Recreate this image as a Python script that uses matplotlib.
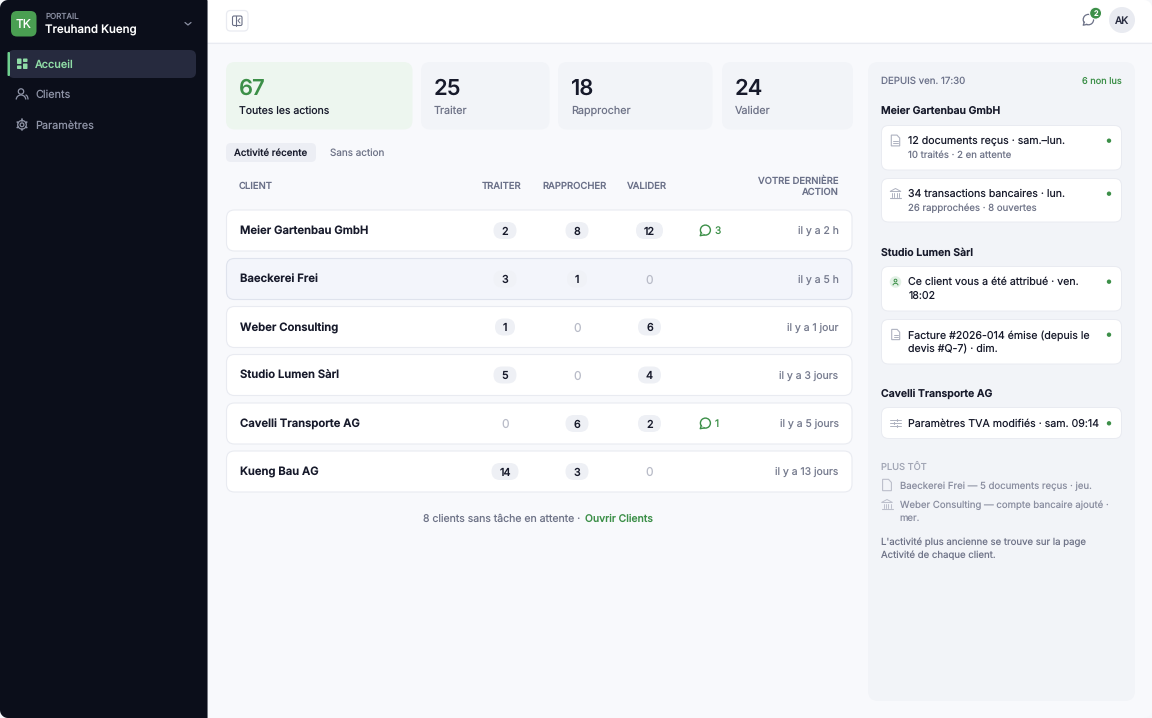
import matplotlib
matplotlib.use("Agg")
import numpy as np
import matplotlib.pyplot as plt
from matplotlib.patches import FancyBboxPatch, Circle, Polygon, Rectangle, Arc

plt.rcParams['font.family'] = ['Inter', 'DejaVu Sans']
plt.rcParams['text.hinting'] = 'none'
plt.rcParams['text.hinting_factor'] = 1

# ---------- data ----------
nav_items = ["Accueil", "Clients", "Paramètres"]
stat_values = [67, 25, 18, 24]
stat_labels = ["Toutes les actions", "Traiter", "Rapprocher", "Valider"]
clients = ["Meier Gartenbau GmbH", "Baeckerei Frei", "Weber Consulting",
           "Studio Lumen Sàrl", "Cavelli Transporte AG", "Kueng Bau AG"]
traiter = [2, 3, 1, 5, 0, 14]
rapprocher = [8, 1, 0, 0, 6, 3]
valider = [12, 0, 6, 4, 2, 0]
comments = [3, 0, 0, 0, 1, 0]
last_action = ["il y a 2 h", "il y a 5 h", "il y a 1 jour",
               "il y a 3 jours", "il y a 5 jours", "il y a 13 jours"]

# ---------- palette ----------
INK = "#171a2b"
MUTED = "#6f7488"
GREEN = "#3c8f48"
SIDE = "#0b0e1a"
PANEL = "#f2f4f8"
LINE = "#e9ebf1"
ICON = "#aeb2c0"

W, H = 1152, 718
fig = plt.figure(figsize=(W / 100, H / 100), dpi=100, facecolor="#ffffff")
ax = fig.add_axes([0, 0, 1, 1])
ax.set_xlim(0, W)
ax.set_ylim(H, 0)
ax.axis("off")


def box(x0, y0, x1, y1, r=0, fc="#ffffff", ec="none", lw=0.8, z=1):
    p = FancyBboxPatch((x0, y0), x1 - x0, y1 - y0,
                       boxstyle=f"round,pad=0,rounding_size={r}",
                       fc=fc, ec=ec, lw=lw, zorder=z)
    ax.add_patch(p)
    return p


def txt(x, y, s, px=11, c=INK, w="normal", ha="left", z=5, va="center_baseline"):
    return ax.text(x, y, s, fontsize=px * 0.72, color=c, fontweight=w,
                   ha=ha, va=va, zorder=z)


def ln(xs, ys, c=ICON, lw=0.9, z=4):
    ax.plot(xs, ys, color=c, lw=lw, solid_capstyle="round",
            solid_joinstyle="round", zorder=z)


def doc_icon(cx, cy, c=ICON, s=1.0, lines=True):
    w, h = 4.2 * s, 5.4 * s
    pts = [(cx - w, cy - h), (cx + w * .35, cy - h), (cx + w, cy - h * .45),
           (cx + w, cy + h), (cx - w, cy + h)]
    ax.add_patch(Polygon(pts, closed=True, fc="none", ec=c, lw=0.8, zorder=4))
    if lines:
        for dy in (0.2, 2.4):
            ln([cx - w * .5, cx + w * .5], [cy + dy, cy + dy], c, 0.7)


def bank_icon(cx, cy, c=ICON):
    ax.add_patch(Polygon([(cx - 5.5, cy - 2), (cx, cy - 5), (cx + 5.5, cy - 2)],
                         closed=True, fc="none", ec=c, lw=0.7, zorder=4))
    for dx in (-3.5, -1.2, 1.2, 3.5):
        ln([cx + dx, cx + dx], [cy - 1, cy + 3], c, 0.7)
    ln([cx - 5.5, cx + 5.5], [cy + 4.3, cy + 4.3], c, 0.8)


def chat_icon(cx, cy, c=GREEN, r=5.0, lw=1.0):
    ax.add_patch(Circle((cx + 0.4, cy - 0.4), r, fc="none", ec=c, lw=lw, zorder=4))
    ax.add_patch(Polygon([(cx - 3.6, cy + 2), (cx - 4.8, cy + 5.2), (cx - 0.8, cy + 4.4)],
                         closed=True, fc="#ffffff", ec="none", zorder=4))
    ln([cx - 3.6, cx - 4.8, cx - 0.8], [cy + 2, cy + 5.2, cy + 4.4], c, lw)


def corner(cx, cy, qx, qy, r=8, fc="#f6f7fa"):
    a = np.linspace(0, np.pi / 2, 12)
    arc = [(cx + qx * r * (1 - np.sin(t)), cy + qy * r * (1 - np.cos(t))) for t in a]
    ax.add_patch(Polygon([(cx, cy)] + arc, closed=True, fc=fc, ec="none", zorder=20))


# ---------- background ----------
ax.add_patch(Rectangle((207, 42), W - 207, H - 42, fc="#f8f9fc", ec="none", zorder=0))
ln([207, W], [42.5, 42.5], LINE, 0.8, z=1)
ax.add_patch(Rectangle((0, 0), 207, H, fc=SIDE, ec="none", zorder=1))
ln([206.8, 206.8], [0, H], "#3e414c", 0.5, z=2)
for cx, cy, qx, qy in [(0, 0, 1, 1), (W, 0, -1, 1), (0, H, 1, -1), (W, H, -1, -1)]:
    corner(cx, cy, qx, qy)

# ---------- sidebar ----------
box(11, 11, 36.5, 36.5, r=6, fc="#4a9f52", z=2)
txt(23.7, 23.8, "TK", 12, "#ffffff", "normal", ha="center")
txt(45, 15.8, "PORTAIL", 8, "#8b90a3", "normal")
txt(45, 28.8, "Treuhand Kueng", 11.5, "#ffffff", "medium")
ln([185, 188, 191], [22.5, 25, 22.5], "#8b90a3", 0.9)

box(8, 50, 196, 78, r=6, fc="#262a3e", z=2)
box(7.5, 52, 10, 76, r=1, fc="#6fd08f", z=3)
nav_y = [63.5, 94, 124.5]
for name, y, col in zip(nav_items, nav_y, ["#8fdca6", "#8f94a7", "#8f94a7"]):
    txt(35, y, name, 10.9, col, "medium" if name == "Accueil" else "normal")
for x0, y0, w, h in [(17, 58.5, 4.5, 5.5), (23, 58.5, 4.5, 3.5),
                     (17, 65.5, 4.5, 3.5), (23, 63.5, 4.5, 5.5)]:
    box(x0, y0, x0 + w, y0 + h, r=0.8, fc="#8fdca6", z=4)
ax.add_patch(Circle((21, 91.5), 2.7, fc="none", ec="#8f94a7", lw=0.9, zorder=4))
ax.add_patch(Arc((21, 99.5), 9.5, 9, theta1=180, theta2=360, ec="#8f94a7", lw=0.9, zorder=4))
ax.add_patch(Arc((25.5, 99.5), 5, 9, theta1=270, theta2=360, ec="#8f94a7", lw=0.9, zorder=4))
ax.add_patch(Circle((22, 124.8), 1.9, fc="none", ec="#8f94a7", lw=0.9, zorder=4))
ax.add_patch(Circle((22, 124.8), 4.3, fc="none", ec="#8f94a7", lw=0.9, zorder=4))
for a in np.arange(0, 360, 60) + 30:
    ca, sa = np.cos(np.radians(a)), np.sin(np.radians(a))
    ln([22 + 4.3 * ca, 22 + 5.5 * ca], [124.8 + 4.3 * sa, 124.8 + 5.5 * sa], "#8f94a7", 1.2)

# ---------- header ----------
box(226.5, 10.5, 248, 31, r=4, fc="#ffffff", ec=LINE, lw=0.9, z=2)
box(232.5, 16, 242, 25.5, r=1.5, fc="none", ec="#6b7086", lw=0.8, z=3)
ln([236, 236], [16, 25.5], "#6b7086", 0.8)
ln([240, 238, 240], [18.5, 20.7, 23], "#6b7086", 0.7)
chat_icon(1088, 20, "#6b7086", r=5.2, lw=0.9)
ax.add_patch(Circle((1095.6, 13.2), 6, fc=GREEN, ec="#ffffff", lw=0.8, zorder=5))
txt(1095.6, 13.3, "2", 7.5, "#ffffff", "medium", ha="center", z=6)
ax.add_patch(Circle((1122, 20), 13, fc="#e9ebf1", ec="none", zorder=3))
txt(1122, 20.3, "AK", 10.2, "#2a2e42", "medium", ha="center")

# ---------- stat cards ----------
card_x = [(226, 412.5), (421, 549.5), (558, 712.5), (722, 853)]
for i, ((x0, x1), v, lab) in enumerate(zip(card_x, stat_values, stat_labels)):
    box(x0, 62, x1, 129.5, r=9, fc="#edf6ef" if i == 0 else PANEL, z=2)
    txt(x0 + 13, 87, str(v), 22, GREEN if i == 0 else INK, "semibold")
    txt(x0 + 13, 110, lab, 10.5 if i == 0 else 10.8, INK if i == 0 else MUTED)

# ---------- tabs ----------
box(226, 143, 316, 162, r=5, fc="#eceef4", z=2)
txt(234, 152, "Activité récente", 9.7, INK, "medium")
txt(330.5, 152, "Sans action", 9.9, MUTED)

# ---------- table ----------
HDR = "#6b7189"
HS = 9.5
txt(239, 185.8, "CLIENT", HS, HDR, "medium")
txt(502, 185.8, "TRAITER", HS, HDR, "medium", ha="center")
txt(574.3, 185.8, "RAPPROCHER", HS, HDR, "medium", ha="center")
txt(646.7, 185.8, "VALIDER", HS, HDR, "medium", ha="center")
txt(839, 180, "VOTRE DERNIÈRE", HS, HDR, "medium", ha="right")
txt(839, 191.3, "ACTION", HS, HDR, "medium", ha="right")

row_top = [210, 258.5, 306.5, 354.5, 403, 451]
col_x = [505, 577, 649.5]
for i, name in enumerate(clients):
    y0 = row_top[i]
    y1 = y0 + 41
    cy = (y0 + y1) / 2
    hi = i == 1
    box(226.5, y0, 852, y1, r=8, fc="#f3f5fb" if hi else "#ffffff",
        ec="#dfe3ed" if hi else LINE, lw=0.8, z=2)
    txt(239.5, cy + 4.3, name, 11.3, INK, "semibold", va="baseline")
    for cx, val in zip(col_x, (traiter[i], rapprocher[i], valider[i])):
        if val == 0:
            txt(cx, cy, "0", 12, "#b9bcc8", "normal", ha="center")
        else:
            hw = 13.5 if val >= 10 else (10 if val == 1 else 11.5)
            box(cx - hw, cy - 8.5, cx + hw, cy + 8.5, r=8.5,
                fc="#eef0f5" if not hi else "#f0f2f7", z=3)
            txt(cx, cy, str(val), 10.8, INK, "medium", ha="center")
    if comments[i]:
        chat_icon(705, cy, GREEN, r=5.0)
        txt(715, cy, str(comments[i]), 10.2, GREEN, "normal")
    txt(838.5, cy + 3.8, last_action[i], 10.4, "#777c8f", "normal", ha="right", va="baseline")

txt(423, 518.3, "8 clients sans tâche en attente ·", 10.5, MUTED)
txt(585, 518.3, "Ouvrir Clients", 10.4, GREEN, "medium")

# ---------- right panel ----------
box(868, 62, 1135, 701, r=10, fc=PANEL, z=1)
txt(881, 80.7, "DEPUIS ven. 17:30", 9.7, HDR, "normal")
txt(1122, 80.7, "6 non lus", 9.2, GREEN, "normal", ha="right")

for y, g in [(110, "Meier Gartenbau GmbH"), (251.5, "Studio Lumen Sàrl"), (392.7, "Cavelli Transporte AG")]:
    txt(881, y, g, 10.5, INK, "semibold")

feed_cards = [
    (125.5, 170, ["12 documents reçus · sam.–lun."], "10 traités · 2 en attente", 140.2),
    (178.5, 222, ["34 transactions bancaires · lun."], "26 rapprochées · 8 ouvertes", 193.2),
    (266.5, 311, ["Ce client vous a été attribué · ven.", "18:02"], None, 281.2),
    (319.5, 364, ["Facture #2026-014 émise (depuis le", "devis #Q-7) · dim."], None, 334.2),
    (407.5, 438.5, ["Paramètres TVA modifiés · sam. 09:14"], None, 422.8),
]
for y0, y1, lines, sub, ty in feed_cards:
    box(881.5, y0, 1121.5, y1, r=7, fc="#ffffff", ec=LINE, lw=0.7, z=2)
    for k, l in enumerate(lines):
        txt(908.5, ty + k * 13.4, l, 10.6, INK, "normal")
    if sub:
        txt(908.5, ty + 14.3, sub, 9.6, MUTED)
    ax.add_patch(Circle((1109, ty + 0.5), 2.2, fc=GREEN, ec="none", zorder=5))

doc_icon(895.5, 140.5)
bank_icon(895.5, 193.5)
ax.add_patch(Circle((895.5, 282), 5.8, fc="#e3f1e6", ec="none", zorder=3))
ax.add_patch(Circle((895.5, 280.6), 1.4, fc="none", ec=GREEN, lw=0.7, zorder=4))
ax.add_patch(Arc((895.5, 285.3), 5, 4, theta1=180, theta2=360, ec=GREEN, lw=0.7, zorder=4))
doc_icon(895.7, 334.5, s=0.95)
for dy, xk in [(-3, 1), (0, -1.5), (3, 1.5)]:
    ln([890, 901], [423 + dy, 423 + dy], ICON, 0.7)
    ln([895.5 + xk, 895.5 + xk], [423 + dy - 1.2, 423 + dy + 1.2], ICON, 0.8)

txt(881, 466.7, "PLUS TÔT", 9.3, "#a2a6b5", "normal")
txt(899.5, 485, "Baeckerei Frei — 5 documents reçus · jeu.", 9.6, "#8a8ea0")
txt(899.5, 504.5, "Weber Consulting — compte bancaire ajouté ·", 9.6, "#8a8ea0")
txt(899.5, 517.3, "mer.", 9.6, "#8a8ea0")
doc_icon(887, 485, "#bcbfcb", s=1.05, lines=False)
bank_icon(887, 504.5, "#bcbfcb")
txt(881, 541.5, "L'activité plus ancienne se trouve sur la page", 9.6, MUTED)
txt(881, 554.3, "Activité de chaque client.", 9.6, MUTED)

fig.savefig("out.png", dpi=100, facecolor=fig.get_facecolor())
